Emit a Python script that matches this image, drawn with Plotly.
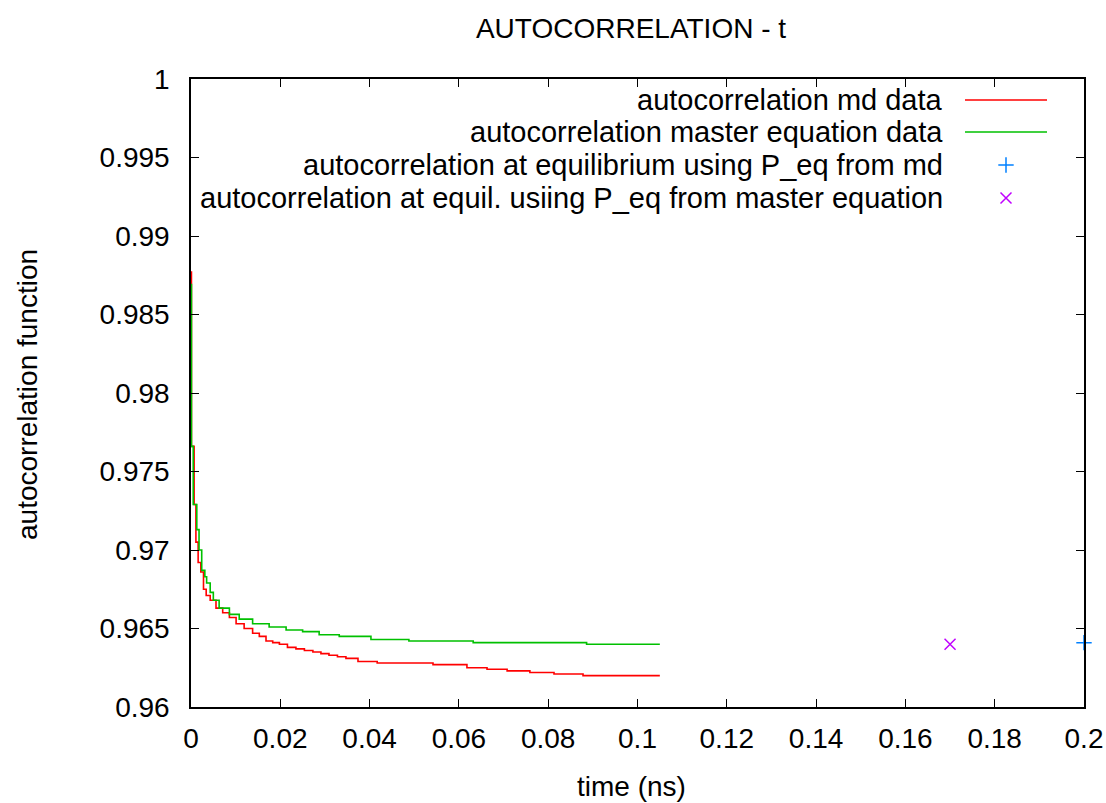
import plotly.graph_objects as go

# ---- data ----
md_t = [0, 0.0001, 0.0007, 0.0011, 0.0016, 0.0022, 0.0028, 0.0034, 0.0043, 0.0056,
        0.0071, 0.0086, 0.0101, 0.0119, 0.0138, 0.0153, 0.0168, 0.0183, 0.0198, 0.0216,
        0.0235, 0.0254, 0.0273, 0.0291, 0.0309, 0.0328, 0.0347, 0.0374, 0.0417, 0.0542,
        0.0618, 0.0663, 0.0708, 0.0759, 0.0813, 0.0878, 0.105]
md_v = [0.9877, 0.9766, 0.9729, 0.9705, 0.9692, 0.9686, 0.9675, 0.9671, 0.9668, 0.9663,
        0.9660, 0.9657, 0.9653, 0.9650, 0.9647, 0.9645, 0.9642, 0.9641, 0.9640, 0.9638,
        0.9637, 0.9636, 0.9635, 0.9634, 0.9633, 0.9632, 0.9631, 0.9629, 0.9628, 0.9627,
        0.9625, 0.9624, 0.9623, 0.9622, 0.9621, 0.9620, 0.9620]

me_t = [0, 0.0001, 0.0005, 0.0013, 0.0018, 0.0024, 0.0031, 0.0035, 0.0043, 0.0050,
        0.0063, 0.0086, 0.0108, 0.0138, 0.0175, 0.0213, 0.0250, 0.0287, 0.0332, 0.0403,
        0.0488, 0.0632, 0.0886, 0.105]
me_v = [0.9869, 0.9766, 0.9729, 0.9713, 0.9700, 0.9687, 0.9683, 0.9679, 0.9673, 0.9668,
        0.9663, 0.9659, 0.9656, 0.9653, 0.9651, 0.9649, 0.9648, 0.9646, 0.9645, 0.9643,
        0.9642, 0.9641, 0.9640, 0.9640]

eq_md_t = [0.2]
eq_md_v = [0.9641]
eq_me_t = [0.17]
eq_me_v = [0.9640]

legend_names = [
    "autocorrelation md data",
    "autocorrelation master equation data",
    "autocorrelation at equilibrium using P_eq from md",
    "autocorrelation at equil. usiing P_eq from master equation",
]

x_ticks = [0, 0.02, 0.04, 0.06, 0.08, 0.1, 0.12, 0.14, 0.16, 0.18, 0.2]
x_labels = ["0", "0.02", "0.04", "0.06", "0.08", "0.1", "0.12", "0.14", "0.16", "0.18", "0.2"]
y_ticks = [0.96, 0.965, 0.97, 0.975, 0.98, 0.985, 0.99, 0.995, 1.0]
y_labels = ["0.96", "0.965", "0.97", "0.975", "0.98", "0.985", "0.99", "0.995", "1"]

RED = "#ff0000"
GREEN = "#00c000"
BLUE = "#0080ff"
PURPLE = "#c000ff"
FONT = "Liberation Sans"
FS = 28
FS_KEY = 29

fig = go.Figure()
fig.add_trace(go.Scatter(x=md_t, y=md_v, mode="lines", line=dict(color=RED, width=1.6, shape="hv"),
                         name=legend_names[0], showlegend=False))
fig.add_trace(go.Scatter(x=me_t, y=me_v, mode="lines", line=dict(color=GREEN, width=1.6, shape="hv"),
                         name=legend_names[1], showlegend=False))
fig.add_trace(go.Scatter(x=eq_md_t, y=eq_md_v, mode="markers", cliponaxis=False,
                         marker=dict(symbol="cross-thin", size=11, line=dict(color=BLUE, width=1.5)),
                         name=legend_names[2], showlegend=False))
fig.add_trace(go.Scatter(x=eq_me_t, y=eq_me_v, mode="markers", cliponaxis=False,
                         marker=dict(symbol="x-thin", size=11, line=dict(color=PURPLE, width=1.5)),
                         name=legend_names[3], showlegend=False))

# ---- gnuplot-style key (text right-justified, sample to the right) ----
L, R, T, B = 191, 1084, 79, 707
W, H = R - L, B - T
def px(x):
    return (x - L) / W
def py(y):
    return (B - y) / H

rows_y = [100, 132, 165, 198]
for name, yy in zip(legend_names, rows_y):
    fig.add_annotation(x=px(945), y=py(yy), xref="paper", yref="paper", text=name,
                       showarrow=False, xanchor="right", yanchor="middle",
                       font=dict(family=FONT, size=FS_KEY, color="#000000"))
for col, yy in zip([RED, GREEN], rows_y[:2]):
    fig.add_shape(type="line", xref="paper", yref="paper", x0=px(965), x1=px(1047),
                  y0=py(yy), y1=py(yy), line=dict(color=col, width=1.6))
fig.add_trace(go.Scatter(x=[px(1006)], y=[py(rows_y[2])], xaxis="x2", yaxis="y2", mode="markers",
                         marker=dict(symbol="cross-thin", size=11, line=dict(color=BLUE, width=1.5)),
                         showlegend=False, hoverinfo="skip"))
fig.add_trace(go.Scatter(x=[px(1006)], y=[py(rows_y[3])], xaxis="x2", yaxis="y2", mode="markers",
                         marker=dict(symbol="x-thin", size=11, line=dict(color=PURPLE, width=1.5)),
                         showlegend=False, hoverinfo="skip"))

fig.add_annotation(x=px(631), y=py(786), xref="paper", yref="paper", text="time (ns)",
                   showarrow=False, xanchor="center", yanchor="middle",
                   font=dict(family=FONT, size=FS, color="#000000"))
fig.add_annotation(x=px(27), y=py(395), xref="paper", yref="paper", text="autocorrelation function",
                   showarrow=False, xanchor="center", yanchor="middle", textangle=-90,
                   font=dict(family=FONT, size=FS, color="#000000"))

axis_common = dict(showline=True, linecolor="#000000", linewidth=1.5, mirror="allticks",
                   ticks="inside", ticklen=8, tickwidth=1.3, tickcolor="#000000",
                   showgrid=False, zeroline=False, automargin=False,
                   tickfont=dict(family=FONT, size=FS, color="#000000"))

fig.update_layout(
    width=1106, height=803,
    margin=dict(l=L, r=1106 - R, t=T, b=803 - B, autoexpand=False),
    paper_bgcolor="#ffffff", plot_bgcolor="#ffffff",
    title=dict(text="AUTOCORRELATION - t", x=631 / 1106, xref="container", xanchor="center",
               y=1 - 28 / 803, yref="container", yanchor="middle",
               font=dict(family=FONT, size=FS, color="#000000")),
    xaxis=dict(range=[0, 0.2], tickvals=x_ticks, ticktext=x_labels, ticklabelstandoff=6, **axis_common),
    yaxis=dict(range=[0.96, 1.0], tickvals=y_ticks, ticktext=y_labels, ticklabelstandoff=14, **axis_common),
    xaxis2=dict(range=[0, 1], overlaying="x", visible=False),
    yaxis2=dict(range=[0, 1], overlaying="y", visible=False),
    showlegend=False,
)

fig.write_html("out.html")
